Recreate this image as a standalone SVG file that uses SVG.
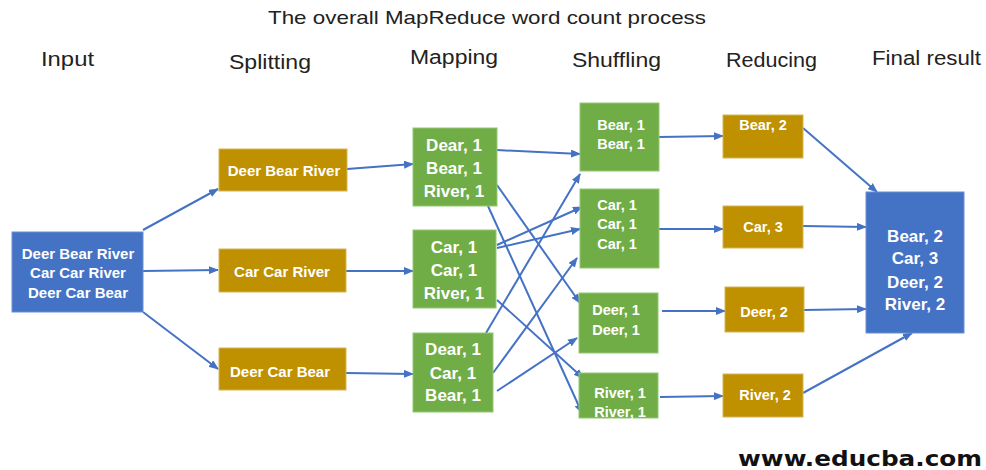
<svg xmlns="http://www.w3.org/2000/svg" width="986" height="470" viewBox="0 0 986 470">
  <defs>
    <marker id="ah" markerUnits="userSpaceOnUse" markerWidth="10" markerHeight="8" refX="9" refY="4" orient="auto">
      <path d="M0,0 L10,4 L0,8 Z" fill="#4472C4"/>
    </marker>
    <style>
      .hdr { font-family: "Liberation Sans", Arial, sans-serif; font-size: 20px; fill: #222; }
      .ttl { font-family: "Liberation Sans", Arial, sans-serif; font-size: 19px; fill: #222; }
      .blue { fill: #4472C4; stroke: #6A8FD3; stroke-width: 1; }
      .gold { fill: #BF9000; stroke: #D6B459; stroke-width: 1; }
      .green { fill: #70AD47; stroke: #94C775; stroke-width: 1; }
      .t { font-family: "Liberation Sans", Arial, sans-serif; font-weight: bold; fill: #fff; text-anchor: middle; }
      .t15 { font-size: 15px; }
      .t17 { font-size: 17px; }
      .t14 { font-size: 14.5px; }
      .edges line { stroke: #4472C4; stroke-width: 2; marker-end: url(#ah); }
      .wm { font-family: "DejaVu Sans", Verdana, sans-serif; font-weight: bold; font-size: 21px; fill: #111; }
    </style>
  </defs>

  <rect width="986" height="470" fill="#fff"/>

  <!-- titles -->
  <text class="ttl" x="268" y="24" textLength="438" lengthAdjust="spacingAndGlyphs">The overall MapReduce word count process</text>
  <text class="hdr" x="41" y="66" textLength="53" lengthAdjust="spacingAndGlyphs">Input</text>
  <text class="hdr" x="229" y="69" textLength="82" lengthAdjust="spacingAndGlyphs">Splitting</text>
  <text class="hdr" x="410" y="64" textLength="88" lengthAdjust="spacingAndGlyphs">Mapping</text>
  <text class="hdr" x="572" y="67" textLength="89" lengthAdjust="spacingAndGlyphs">Shuffling</text>
  <text class="hdr" x="726" y="67" textLength="91" lengthAdjust="spacingAndGlyphs">Reducing</text>
  <text class="hdr" x="872" y="65" textLength="109" lengthAdjust="spacingAndGlyphs">Final result</text>

  <!-- connectors -->
  <g class="edges">
    <line x1="143" y1="230" x2="218" y2="189"/>
    <line x1="143" y1="271" x2="218" y2="270"/>
    <line x1="143" y1="312" x2="218" y2="369"/>

    <line x1="347" y1="169" x2="413" y2="164"/>
    <line x1="346" y1="271" x2="413" y2="271"/>
    <line x1="346" y1="373" x2="413" y2="374"/>

    <line x1="497" y1="150" x2="580" y2="154"/>
    <line x1="497" y1="185" x2="580" y2="303"/>
    <line x1="488" y1="206" x2="582" y2="413"/>
    <line x1="497" y1="245" x2="582" y2="207"/>
    <line x1="497" y1="248" x2="580" y2="229"/>
    <line x1="497" y1="300" x2="583" y2="378"/>
    <line x1="486" y1="333" x2="580" y2="174"/>
    <line x1="493" y1="373" x2="577" y2="258"/>
    <line x1="497" y1="391" x2="577" y2="338"/>

    <line x1="659" y1="137" x2="723" y2="136"/>
    <line x1="659" y1="229" x2="723" y2="229"/>
    <line x1="662" y1="311" x2="725" y2="311"/>
    <line x1="660" y1="397" x2="723" y2="396"/>

    <line x1="803" y1="128" x2="877" y2="192"/>
    <line x1="803" y1="226" x2="866" y2="227"/>
    <line x1="804" y1="310" x2="866" y2="309"/>
    <line x1="803" y1="393" x2="912" y2="333"/>
  </g>

  <!-- input -->
  <g id="input">
    <rect class="blue" x="12" y="232" width="131" height="80"/>
    <text class="t t15" x="78" y="259">Deer Bear River</text>
    <text class="t t15" x="78" y="278">Car Car River</text>
    <text class="t t15" x="78" y="298">Deer Car Bear</text>
  </g>

  <!-- splitting -->
  <g id="split1">
    <rect class="gold" x="219" y="149" width="128" height="42"/>
    <text class="t t15" x="284" y="176">Deer Bear River</text>
  </g>
  <g id="split2">
    <rect class="gold" x="219" y="249" width="127" height="43"/>
    <text class="t t15" x="282" y="277">Car Car River</text>
  </g>
  <g id="split3">
    <rect class="gold" x="219" y="348" width="127" height="42"/>
    <text class="t t15" x="280" y="377">Deer Car Bear</text>
  </g>

  <!-- mapping -->
  <g id="map1">
    <rect class="green" x="413" y="128" width="84" height="78"/>
    <text class="t t17" x="454" y="151">Dear, 1</text>
    <text class="t t17" x="454" y="174">Bear, 1</text>
    <text class="t t17" x="454" y="197">River, 1</text>
  </g>
  <g id="map2">
    <rect class="green" x="413" y="230" width="83" height="78"/>
    <text class="t t17" x="454" y="253">Car, 1</text>
    <text class="t t17" x="454" y="276">Car, 1</text>
    <text class="t t17" x="454" y="299">River, 1</text>
  </g>
  <g id="map3">
    <rect class="green" x="413" y="333" width="80" height="79"/>
    <text class="t t17" x="453" y="355">Dear, 1</text>
    <text class="t t17" x="453" y="379">Car, 1</text>
    <text class="t t17" x="453" y="401">Bear, 1</text>
  </g>

  <!-- shuffling -->
  <g id="shuf-bear">
    <rect class="green" x="580" y="103" width="79" height="68"/>
    <text class="t t14" x="621" y="130">Bear, 1</text>
    <text class="t t14" x="621" y="149">Bear, 1</text>
  </g>
  <g id="shuf-car">
    <rect class="green" x="580" y="189" width="79" height="79"/>
    <text class="t t14" x="617" y="210">Car, 1</text>
    <text class="t t14" x="617" y="229">Car, 1</text>
    <text class="t t14" x="617" y="249">Car, 1</text>
  </g>
  <g id="shuf-deer">
    <rect class="green" x="579" y="293" width="79" height="60"/>
    <text class="t t14" x="616" y="315">Deer, 1</text>
    <text class="t t14" x="616" y="335">Deer, 1</text>
  </g>
  <g id="shuf-river">
    <rect class="green" x="579" y="373" width="79" height="45"/>
    <text class="t t14" x="620" y="398">River, 1</text>
    <text class="t t14" x="620" y="417">River, 1</text>
  </g>

  <!-- reducing -->
  <g id="red-bear">
    <rect class="gold" x="723" y="115" width="80" height="43"/>
    <text class="t t14" x="763" y="130">Bear, 2</text>
  </g>
  <g id="red-car">
    <rect class="gold" x="723" y="206" width="80" height="42"/>
    <text class="t t14" x="763" y="232">Car, 3</text>
  </g>
  <g id="red-deer">
    <rect class="gold" x="725" y="287" width="79" height="45"/>
    <text class="t t14" x="764" y="317">Deer, 2</text>
  </g>
  <g id="red-river">
    <rect class="gold" x="723" y="374" width="80" height="43"/>
    <text class="t t14" x="765" y="400">River, 2</text>
  </g>

  <!-- final result -->
  <g id="result">
    <rect class="blue" x="866" y="192" width="98" height="141"/>
    <text class="t t17" x="915" y="242">Bear, 2</text>
    <text class="t t17" x="915" y="264">Car, 3</text>
    <text class="t t17" x="915" y="288">Deer, 2</text>
    <text class="t t17" x="915" y="310">River, 2</text>
  </g>

  <text class="wm" x="738" y="466" textLength="244" lengthAdjust="spacingAndGlyphs">www.educba.com</text>
</svg>
